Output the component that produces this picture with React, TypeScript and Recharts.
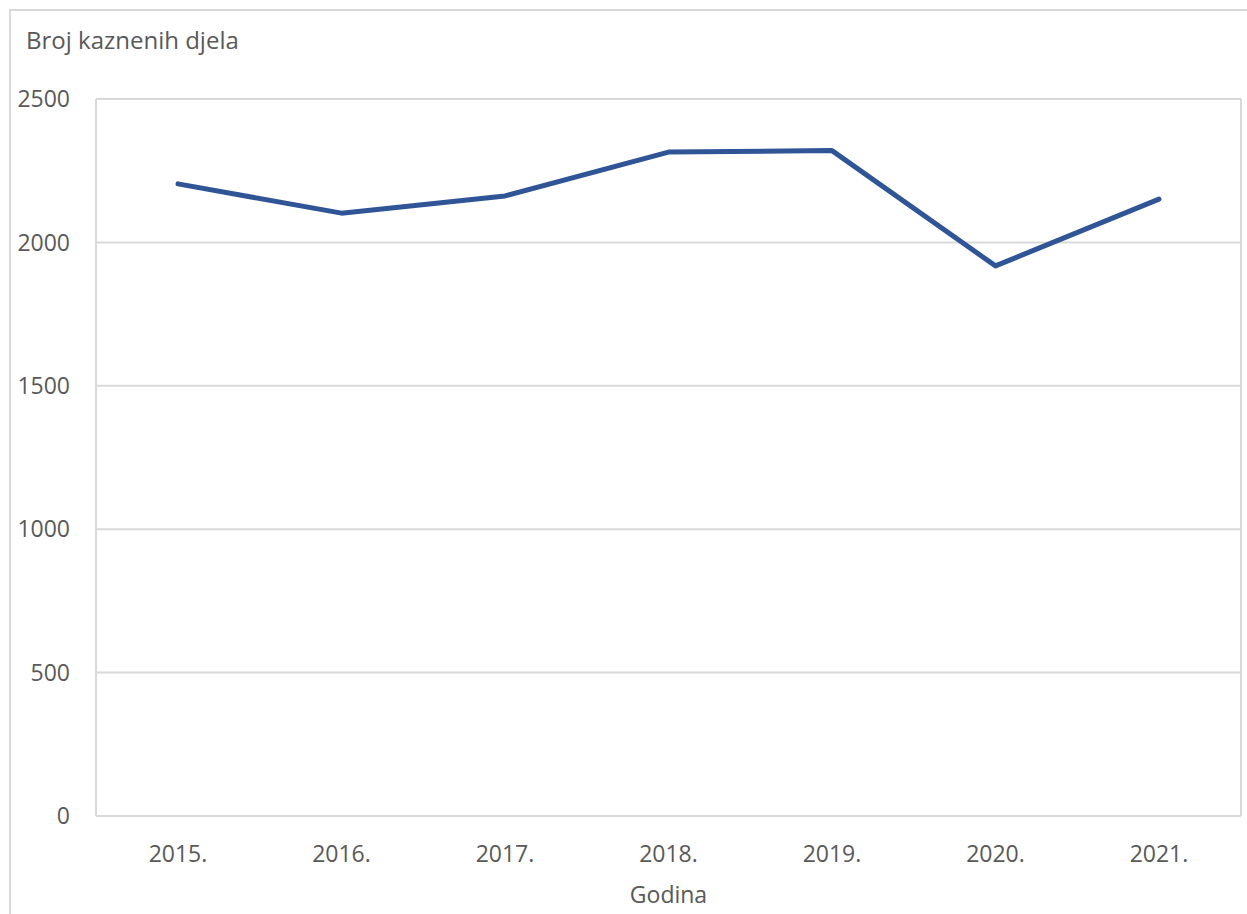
import React from "react";
import { LineChart, Line, XAxis, YAxis, CartesianGrid, Label } from "recharts";

const years = ["2015.", "2016.", "2017.", "2018.", "2019.", "2020.", "2021."];
const offences = [2204, 2102, 2162, 2315, 2320, 1918, 2151];
const yTicks = [0, 500, 1000, 1500, 2000, 2500];

const data = years.map((godina, i) => ({ godina, value: offences[i] }));

const font = "'Open Sans', sans-serif";
const textColor = "#595959";
const gridColor = "#d9d9d9";

export default function App() {
  return (
    <div style={{ position: "absolute", left: 0, top: 0, width: 1247, height: 914, background: "#fff", overflow: "hidden", fontFamily: font }}>
      {/* outer chart frame, cropped on the right and bottom */}
      <div style={{ position: "absolute", left: 9, top: 9, width: 1300, height: 1000, borderLeft: `2px solid ${gridColor}`, borderTop: `2px solid ${gridColor}` }} />
      <div style={{ position: "absolute", left: 26, top: 27, fontSize: 24, lineHeight: "25px", color: textColor, whiteSpace: "nowrap" }}>
        Broj kaznenih djela
      </div>
      <div style={{ position: "absolute", left: 0, top: 0 }}>
        <LineChart width={1247} height={914} data={data} margin={{ top: 99, right: 6, left: 36, bottom: 38 }}>
          <CartesianGrid
            horizontal={true}
            vertical={true}
            verticalCoordinatesGenerator={({ offset }: any) => [offset.left, offset.left + offset.width]}
            stroke={gridColor}
            strokeWidth={2}
          />
          <XAxis
            dataKey="godina"
            height={60}
            padding={{ left: 82, right: 82 }}
            tickSize={0}
            tickMargin={30}
            stroke={gridColor}
            strokeWidth={2}
            tick={{ fill: textColor, fontSize: 23, fontFamily: font }}
          >
            <Label value="Godina" position="bottom" offset={11} fill={textColor} fontSize={23} fontFamily={font} />
          </XAxis>
          <YAxis
            width={60}
            domain={[0, 2500]}
            ticks={yTicks}
            tickSize={0}
            tickMargin={26}
            stroke={gridColor}
            strokeWidth={2}
            tick={{ fill: textColor, fontSize: 23, fontFamily: font }}
          />
          <Line
            type="linear"
            dataKey="value"
            stroke="#2f5597"
            strokeWidth={5}
            strokeLinejoin="round"
            strokeLinecap="round"
            dot={false}
            activeDot={false}
            isAnimationActive={false}
          />
        </LineChart>
      </div>
    </div>
  );
}
